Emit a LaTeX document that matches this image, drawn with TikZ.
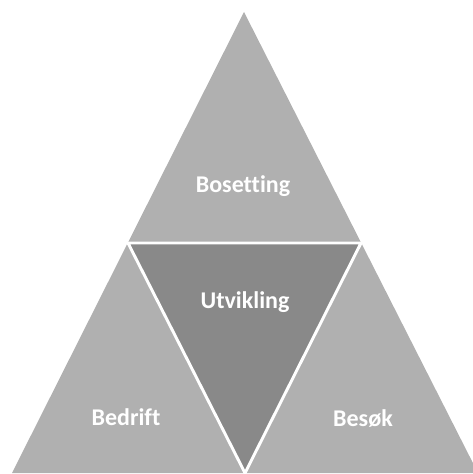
\documentclass[tikz,border=0pt]{standalone}
\usepackage{fontspec}
\setmainfont[Ligatures={NoCommon}]{Carlito}
\definecolor{lightgr}{RGB}{176,176,176}
\definecolor{darkgr}{RGB}{137,137,137}
\begin{document}
\begin{tikzpicture}[x=0.75pt,y=-0.75pt,
  lbl/.style={anchor=base,text=white,font=\fontsize{18}{20}\selectfont\bfseries,inner sep=0pt}]
\useasboundingbox (0,0) rectangle (473,474);
\clip (0,0) rectangle (473,474);
\coordinate (A) at (244,12);
\coordinate (L) at (12,473);
\coordinate (R) at (478,473);
\coordinate (ML) at (128,243);
\coordinate (MR) at (361,243);
\coordinate (MB) at (245,473);
\fill[lightgr] (A) -- (L) -- (R) -- cycle;
\draw[white,line width=2.2pt,fill=darkgr,line join=miter] (ML) -- (MR) -- (MB) -- cycle;
\draw[white,line width=2.2pt] (ML) -- ++(-12,0);
\draw[white,line width=2.2pt] (MR) -- ++(12,0);
\node[lbl] (bos) at (243,192) {Bosetting};
\node[lbl] (utv) at (245,308) {Utvikling};
\node[lbl] (bed) at (126,425) {Bedrift};
\node[lbl] (bes) at (363,426) {Besøk};
\end{tikzpicture}
\end{document}
